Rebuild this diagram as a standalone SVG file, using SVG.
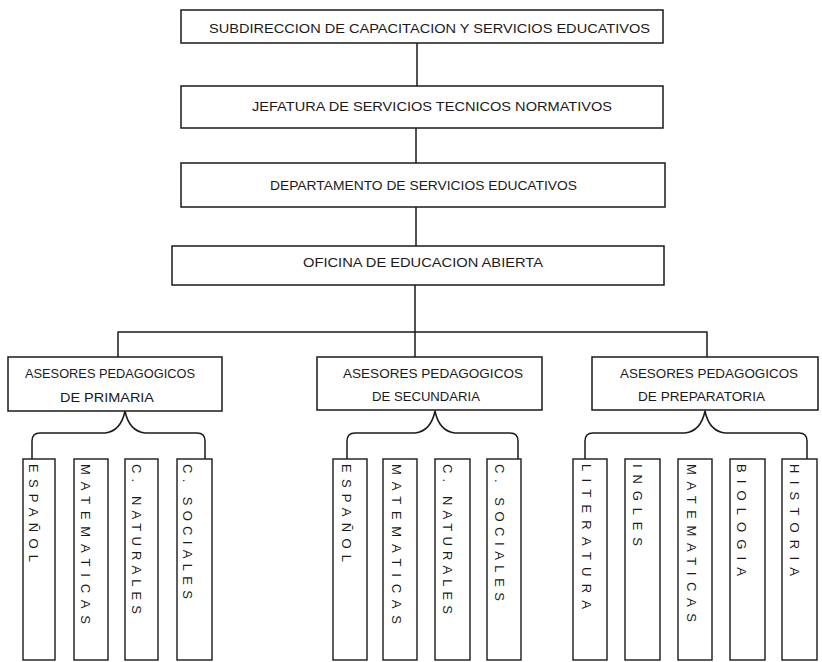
<svg xmlns="http://www.w3.org/2000/svg" width="822" height="662" viewBox="0 0 822 662">
<style>
.box{fill:#fff;stroke:#1a1a1a;stroke-width:1.5}
.col{fill:#fff;stroke:#1a1a1a;stroke-width:1.4}
.ln{fill:none;stroke:#1a1a1a;stroke-width:1.5;stroke-linejoin:round}
.t{font-family:"Liberation Sans",Arial,sans-serif;font-size:13px;fill:#1a1a1a}
.v{font-family:"Liberation Sans",Arial,sans-serif;font-size:13px;fill:#1a1a1a}
</style>
<rect width="822" height="662" fill="#fff"/>
<g id="connectors">
<path class="ln" d="M417,43 V86 M416,128 V163 M416,207 V246 M415,285 V357"/>
<path class="ln" d="M118,357 V332 H707 V357"/>
<path class="ln" d="M32,459 V441 Q32,433 40,433 H105 Q121,431 125,411 Q129,431 145,433 H197 Q205,433 205,441 V459"/>
<path class="ln" d="M347,459 V441 Q347,433 355,433 H415 Q431,431 435,411 Q439,431 455,433 H510 Q518,433 518,441 V459"/>
<path class="ln" d="M585,459 V441 Q585,433 593,433 H685 Q701,431 705,411 Q709,431 725,433 H799 Q807,433 807,441 V459"/>
</g>
<g id="n1"><rect class="box" x="181" y="10" width="482" height="33"/><text class="t" x="209" y="33" textLength="441" lengthAdjust="spacingAndGlyphs">SUBDIRECCION DE CAPACITACION Y SERVICIOS EDUCATIVOS</text></g>
<g id="n2"><rect class="box" x="181" y="86" width="482" height="42"/><text class="t" x="252" y="111" textLength="360" lengthAdjust="spacingAndGlyphs">JEFATURA DE SERVICIOS TECNICOS NORMATIVOS</text></g>
<g id="n3"><rect class="box" x="181" y="163" width="484" height="44"/><text class="t" x="270" y="190" textLength="307" lengthAdjust="spacingAndGlyphs">DEPARTAMENTO DE SERVICIOS EDUCATIVOS</text></g>
<g id="n4"><rect class="box" x="172" y="246" width="492" height="39"/><text class="t" x="303" y="267" textLength="240" lengthAdjust="spacingAndGlyphs">OFICINA DE EDUCACION ABIERTA</text></g>
<g id="primaria"><rect class="box" x="8" y="357" width="214" height="54"/><text class="t" x="25" y="378" textLength="170" lengthAdjust="spacingAndGlyphs">ASESORES PEDAGOGICOS</text><text class="t" x="60" y="402" textLength="94" lengthAdjust="spacingAndGlyphs">DE PRIMARIA</text></g>
<g id="secundaria"><rect class="box" x="317" y="357" width="225" height="53"/><text class="t" x="343" y="378" textLength="180" lengthAdjust="spacingAndGlyphs">ASESORES PEDAGOGICOS</text><text class="t" x="372" y="401" textLength="108" lengthAdjust="spacingAndGlyphs">DE SECUNDARIA</text></g>
<g id="preparatoria"><rect class="box" x="592" y="357" width="226" height="53"/><text class="t" x="620" y="378" textLength="178" lengthAdjust="spacingAndGlyphs">ASESORES PEDAGOGICOS</text><text class="t" x="638" y="401" textLength="127" lengthAdjust="spacingAndGlyphs">DE PREPARATORIA</text></g>
<g id="p-espanol"><rect class="col" x="23" y="459" width="32" height="201"/><text class="v" transform="translate(29,464) rotate(90)" textLength="98" lengthAdjust="spacing">ESPAÑOL</text></g>
<g id="p-matematicas"><rect class="col" x="74" y="459" width="34" height="201"/><text class="v" transform="translate(81,464) rotate(90)" textLength="160" lengthAdjust="spacing">MATEMATICAS</text></g>
<g id="p-naturales"><rect class="col" x="125" y="459" width="33" height="201"/><text class="v" transform="translate(132,464) rotate(90)" textLength="150" lengthAdjust="spacing">C. NATURALES</text></g>
<g id="p-sociales"><rect class="col" x="177" y="459" width="35" height="201"/><text class="v" transform="translate(183,464) rotate(90)" textLength="135" lengthAdjust="spacing">C. SOCIALES</text></g>
<g id="s-espanol"><rect class="col" x="333" y="459" width="34" height="201"/><text class="v" transform="translate(342,464) rotate(90)" textLength="98" lengthAdjust="spacing">ESPAÑOL</text></g>
<g id="s-matematicas"><rect class="col" x="383" y="459" width="34" height="201"/><text class="v" transform="translate(392,464) rotate(90)" textLength="160" lengthAdjust="spacing">MATEMATICAS</text></g>
<g id="s-naturales"><rect class="col" x="435" y="459" width="35" height="201"/><text class="v" transform="translate(443,464) rotate(90)" textLength="150" lengthAdjust="spacing">C. NATURALES</text></g>
<g id="s-sociales"><rect class="col" x="487" y="459" width="34" height="201"/><text class="v" transform="translate(495,464) rotate(90)" textLength="137" lengthAdjust="spacing">C. SOCIALES</text></g>
<g id="r-literatura"><rect class="col" x="573" y="459" width="34" height="201"/><text class="v" transform="translate(582,464) rotate(90)" textLength="145" lengthAdjust="spacing">LITERATURA</text></g>
<g id="r-ingles"><rect class="col" x="625" y="459" width="35" height="201"/><text class="v" transform="translate(633,464) rotate(90)" textLength="82" lengthAdjust="spacing">INGLES</text></g>
<g id="r-matematicas"><rect class="col" x="678" y="459" width="34" height="201"/><text class="v" transform="translate(687,464) rotate(90)" textLength="158" lengthAdjust="spacing">MATEMATICAS</text></g>
<g id="r-biologia"><rect class="col" x="730" y="459" width="35" height="201"/><text class="v" transform="translate(737,464) rotate(90)" textLength="112" lengthAdjust="spacing">BIOLOGIA</text></g>
<g id="r-historia"><rect class="col" x="782" y="459" width="35" height="201"/><text class="v" transform="translate(790,464) rotate(90)" textLength="112" lengthAdjust="spacing">HISTORIA</text></g>
</svg>
